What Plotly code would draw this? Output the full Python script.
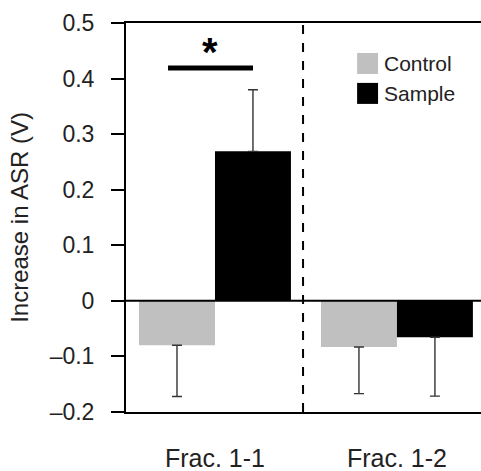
import plotly.graph_objects as go

categories = ["Frac. 1-1", "Frac. 1-2"]
control_vals = [-0.080, -0.083]
control_err = [0.092, 0.084]
sample_vals = [0.269, -0.0655]
sample_err = [0.111, 0.106]
y_ticks = [-0.2, -0.1, 0, 0.1, 0.2, 0.3, 0.4, 0.5]
y_tick_labels = ["\u20130.2", "\u20130.1", "0", "0.1", "0.2", "0.3", "0.4", "0.5"]
series_names = ["Control", "Sample"]
series_colors = ["#c0c0c0", "#000000"]

FONT = "Liberation Sans, Arial, sans-serif"
TXT = "#222222"


def err_dict(vals, errs):
    up = [e if v > 0 else 0 for v, e in zip(vals, errs)]
    down = [e if v < 0 else 0 for v, e in zip(vals, errs)]
    return dict(type="data", symmetric=False, array=up, arrayminus=down,
                color="#333333", thickness=1.4, width=5)


fig = go.Figure()
for name, vals, errs, col in [(series_names[0], control_vals, control_err, series_colors[0]),
                              (series_names[1], sample_vals, sample_err, series_colors[1])]:
    fig.add_trace(go.Bar(x=categories, y=vals, name=name,
                         marker=dict(color=col, line=dict(width=0)),
                         error_y=err_dict(vals, errs), showlegend=False))

# significance bar and star
fig.add_shape(type="line", x0=-0.258, x1=0.209, y0=0.419, y1=0.419,
              line=dict(color="black", width=5))
fig.add_annotation(x=-0.03, y=0.448, text="<b>*</b>", showarrow=False,
                   font=dict(size=40, color="black", family=FONT))
# dashed divider
fig.add_shape(type="line", x0=0.484, x1=0.484, y0=-0.2, y1=0.5,
              line=dict(color="black", width=2, dash="dash"))
# zero line
fig.add_shape(type="line", xref="paper", x0=0, x1=1, y0=0, y1=0,
              line=dict(color="black", width=2))

# legend (swatches + labels)
sw_y = [(0.923, 0.869), (0.846, 0.792)]
for (y1, y0), name, col in zip(sw_y, series_names, series_colors):
    fig.add_shape(type="rect", xref="paper", yref="paper", x0=0.651, x1=0.710,
                  y0=y0, y1=y1, fillcolor=col, line=dict(width=0))
    fig.add_annotation(xref="paper", yref="paper", x=0.722, y=(y0 + y1) / 2,
                       xanchor="left", yanchor="middle", text=name, showarrow=False,
                       font=dict(size=21, color=TXT, family=FONT))

fig.update_layout(
    width=481, height=471,
    margin=dict(l=126, r=0, t=23, b=59),
    plot_bgcolor="white", paper_bgcolor="white",
    barmode="group", bargap=0.165, bargroupgap=0,
    font=dict(family=FONT, color=TXT, size=22),
    showlegend=False,
)
fig.update_xaxes(range=[-0.489, 1.462], showline=True, mirror=True,
                 linecolor="black", linewidth=2, ticks="", showgrid=False,
                 zeroline=False, tickfont=dict(size=25, color=TXT),
                 ticklabelstandoff=23)
fig.update_yaxes(range=[-0.2, 0.5], tickvals=y_ticks, ticktext=y_tick_labels,
                 showline=True, linecolor="black", linewidth=2,
                 ticks="outside", ticklen=13, tickwidth=2, tickcolor="black",
                 showgrid=False, zeroline=False,
                 tickfont=dict(size=23, color=TXT), ticklabelstandoff=12,
                 title=dict(text="Increase in ASR (V)", font=dict(size=24, color=TXT),
                            standoff=14))

fig.write_html("out.html", config={"displayModeBar": False},
               post_script="document.body.style.margin='0';")
